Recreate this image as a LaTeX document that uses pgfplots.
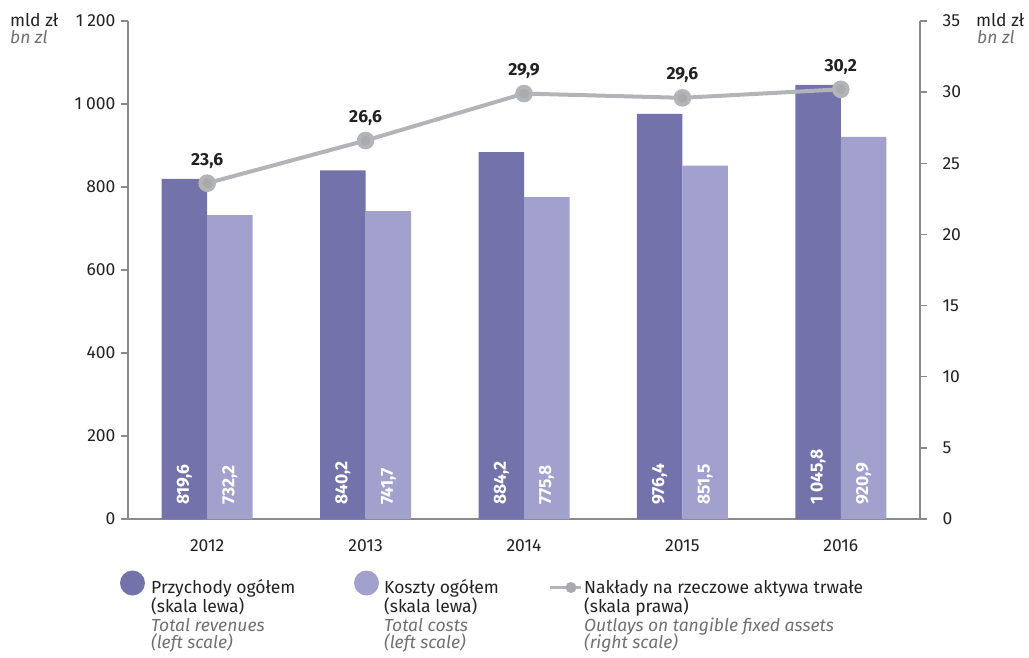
\documentclass[border=0pt]{standalone}
\usepackage{pgfplots}
\pgfplotsset{compat=1.18}
\usepackage{fontspec}
\setmainfont{Fira Sans}

\definecolor{rev}{HTML}{7372AA}
\definecolor{cost}{HTML}{A2A0CD}
\definecolor{lin}{HTML}{B3B4B7}
\definecolor{mk}{HTML}{A9AAAD}
\definecolor{axgray}{HTML}{8A8A8A}
\definecolor{txt}{HTML}{222222}
\definecolor{sub}{HTML}{707070}

\newcommand{\fs}{\fontsize{17.5}{20}\selectfont}
\newcommand{\ths}{\hspace{0.22em}}

\pgfplotsset{
  base/.style={
    at={(0,0)}, anchor=south west, scale only axis,
    width=792pt, height=498pt,
    xmin=-0.5, xmax=4.5, ymin=0,
    clip=false,
    font=\fs,
    /pgf/number format/assume math mode=true,
    tick align=outside,
    major tick length=7pt,
    tick style={axgray, line width=1.3pt},
    axis line style={axgray, line width=1.6pt},
    ticklabel style={text=txt},
  },
  inbar/.style={draw=none, mark=none,
    point meta=explicit symbolic, nodes near coords,
    every node near coord/.style={rotate=90, anchor=west, inner xsep=14pt,
      text=white, font=\fs\bfseries}},
}

\begin{document}
\begin{tikzpicture}
\begin{scope}[x=1pt,y=1pt,xshift=-128pt,yshift=-138pt]
\path[use as bounding box] (0,0) rectangle (1029,657);
\end{scope}

% left scale: revenues and costs
\begin{axis}[base,
  ymax=1200,
  axis y line*=left, axis x line*=bottom,
  ytick={0,200,400,600,800,1000,1200},
  yticklabels={0,200,400,600,800,1\ths000,1\ths200},
  yticklabel style={xshift=-2pt},
  xtick={0,1,2,3,4},
  xticklabels={2012,2013,2014,2015,2016},
  x tick style={draw=none},
  xticklabel style={yshift=-10pt},
]
\addplot[ybar, bar width=45.5pt, bar shift=-22.75pt, fill=rev, draw=none]
  coordinates {(0,819.6) (1,840.2) (2,884.2) (3,976.4) (4,1045.8)};
\addplot[ybar, bar width=45.5pt, bar shift=22.75pt, fill=cost, draw=none]
  coordinates {(0,732.2) (1,741.7) (2,775.8) (3,851.5) (4,920.9)};

% value labels inside bars (bar centres at +-22.75pt = +-0.1436 units)
\addplot[inbar]
  coordinates {(-0.1436,0) [819,6] (0.8564,0) [840,2] (1.8564,0) [884,2] (2.8564,0) [976,4] (3.8564,0) [1\ths045,8]};
\addplot[inbar]
  coordinates {(0.1436,0) [732,2] (1.1436,0) [741,7] (2.1436,0) [775,8] (3.1436,0) [851,5] (4.1436,0) [920,9]};
\end{axis}

% right scale: outlays
\begin{axis}[base,
  ymax=35,
  axis y line*=right, axis x line=none,
  ytick={0,5,...,35},
  yticklabel style={xshift=12pt},
]
\addplot[lin, line width=4pt, mark=*, mark size=6.8pt,
  mark options={fill=mk, draw=none},
  point meta=explicit symbolic, nodes near coords,
  every node near coord/.style={anchor=south, inner ysep=13pt,
    text=txt, font=\fs\bfseries}]
  coordinates {(0,23.6) [23,6] (1,26.6) [26,6] (2,29.9) [29,9] (3,29.6) [29,6] (4,30.2) [30,2]};
\end{axis}

% unit labels and legend
\begin{scope}[x=1pt,y=1pt,xshift=-128pt,yshift=-138pt, font=\fs]
\node[anchor=base west, inner sep=0, text=txt] at (10,630) {mld zł};
\node[anchor=base west, inner sep=0, text=sub] at (10,613) {\itshape bn zl};
\node[anchor=base west, inner sep=0, text=txt] at (976,630) {mld zł};
\node[anchor=base west, inner sep=0, text=sub] at (977,613) {\itshape bn zl};

\fill[rev] (132.5,74) circle (12.5);
\fill[cost] (366.5,74) circle (12.5);
\draw[lin, line width=3.5pt] (550,69.5) -- (581,69.5);
\fill[mk] (571,69.5) circle (5.5);

\foreach \x/\a/\b/\c/\d in {151/Przychody ogółem/(skala lewa)/Total revenues/(left scale),
    384/Koszty ogółem/(skala lewa)/Total costs/(left scale),
    584/Nakłady na rzeczowe aktywa trwałe/(skala prawa)/Outlays on tangible fixed assets/(right scale)}{
  \node[anchor=base west, inner sep=0, text=txt] at (\x,64) {\a};
  \node[anchor=base west, inner sep=0, text=txt] at (\x,45) {\b};
  \node[anchor=base west, inner sep=0, text=sub] at (\x,26) {\itshape\c};
  \node[anchor=base west, inner sep=0, text=sub] at (\x,9) {\itshape\d};
}
\end{scope}
\end{tikzpicture}
\end{document}
